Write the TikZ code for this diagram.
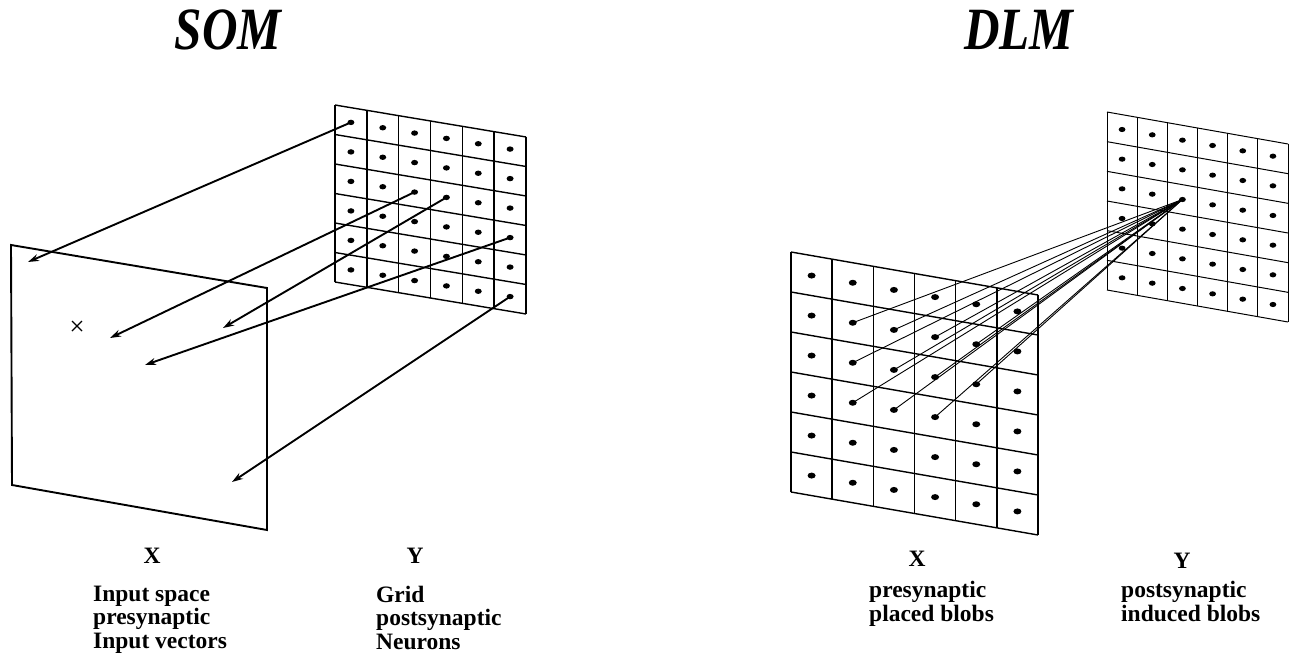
\documentclass[tikz,border=0pt]{standalone}
\usepackage{fontspec}
\setmainfont{Liberation Serif}
\usetikzlibrary{arrows.meta}
\begin{document}
\begin{tikzpicture}[x=1pt,y=-1pt,
  lbl/.style={font=\fontsize{23.5}{23.5}\selectfont\bfseries, inner sep=0pt, anchor=base west},
  lblc/.style={lbl, anchor=base},
  ttl/.style={font=\fontsize{60}{60}\selectfont\bfseries\itshape, inner sep=0pt, anchor=base},
  sgrid/.style={line width=1.4pt},
  rgrid/.style={line width=1pt},
  lgrid/.style={line width=1.4pt},
  plane/.style={line width=1.9pt, line join=miter},
  arr/.style={line width=1.9pt, -{Stealth[length=11pt,width=7pt]}},
  link/.style={line width=0.9pt},
]
\useasboundingbox (0,0) rectangle (1298,655);

% titles
\node[ttl] (tsom) at (228,50) {\scalebox{0.82}[1]{SOM}};
\node[ttl] (tdlm) at (1019,50) {\scalebox{0.82}[1]{DLM}};

% ---------- SOM ----------
% input plane X
\draw[plane] (11,245) -- (267,288) -- (267,530) -- (12,485) -- cycle;
\draw[line width=1.3pt] (72,321) -- (82,331) (72,331) -- (82,321);

% grid Y
\foreach \k in {0,...,6} {
  \draw[sgrid] ({335+191*\k/6},{105+32*\k/6}) -- ++(0,177);
  \draw[sgrid] (335,{105+177*\k/6}) -- ++(191,32);
}
\foreach \i in {0,...,5} \foreach \j in {0,...,5} {
  \coordinate (S-\i-\j) at ({335+191*(\i+0.5)/6},{105+177*(\j+0.5)/6+32*(\i+0.5)/6});
  \fill (S-\i-\j) ellipse [x radius=3.5pt, y radius=2.7pt];
}

\coordinate (A1) at (28,262);
\coordinate (A2) at (110,338);
\coordinate (A3) at (223,328);
\coordinate (A4) at (145,365);
\coordinate (A5) at (232,482);
\draw[arr] (S-0-0) -- (A1);
\draw[arr] (S-2-2) -- (A2);
\draw[arr] (S-3-2) -- (A3);
\draw[arr] (S-5-3) -- (A4);
\draw[arr] (S-5-5) -- (A5);

% labels
\node[lblc] (sx) at (152,563) {X};
\node[lblc] (sy) at (415,563) {Y};
\node[lbl] (sx1) at (93,601) {Input space};
\node[lbl] (sx2) at (93,624.5) {presynaptic};
\node[lbl] (sx3) at (93,648) {Input vectors};
\node[lbl] (sy1) at (376,602) {Grid};
\node[lbl] (sy2) at (376,625.5) {postsynaptic};
\node[lbl] (sy3) at (376,649) {Neurons};

% ---------- DLM ----------
% right grid Y
\foreach \k in {0,...,6} {
  \draw[rgrid] ({1107+181*\k/6},{112+32*\k/6}) -- ++(0,178);
  \draw[rgrid] (1107,{112+178*\k/6}) -- ++(181,32);
}
\foreach \i in {0,...,5} \foreach \j in {0,...,5} {
  \coordinate (R-\i-\j) at ({1107+181*(\i+0.5)/6},{112+178*(\j+0.5)/6+32*(\i+0.5)/6});
  \fill (R-\i-\j) ellipse [x radius=3.4pt, y radius=2.6pt];
}

% left grid X
\foreach \k in {0,...,6} {
  \draw[lgrid] ({791+247*\k/6},{252+43*\k/6}) -- ++(0,240);
  \draw[lgrid] (791,{252+240*\k/6}) -- ++(247,43);
}
\foreach \i in {0,...,5} \foreach \j in {0,...,5} {
  \coordinate (L-\i-\j) at ({791+247*(\i+0.5)/6},{252+240*(\j+0.5)/6+43*(\i+0.5)/6});
  \fill (L-\i-\j) ellipse [x radius=4pt, y radius=3pt];
}

\foreach \p in {1-1,2-1,3-1,4-1,1-2,2-2,3-2,4-2,1-3,2-3,3-3}
  \draw[link] (R-2-2) -- (L-\p);

% labels
\node[lblc] (dx) at (917,566) {X};
\node[lblc] (dy) at (1182,568) {Y};
\node[lbl] (dx1) at (869,597) {presynaptic};
\node[lbl] (dx2) at (869,621) {placed blobs};
\node[lbl] (dy1) at (1121,597) {postsynaptic};
\node[lbl] (dy2) at (1121,621) {induced blobs};
\end{tikzpicture}
\end{document}
